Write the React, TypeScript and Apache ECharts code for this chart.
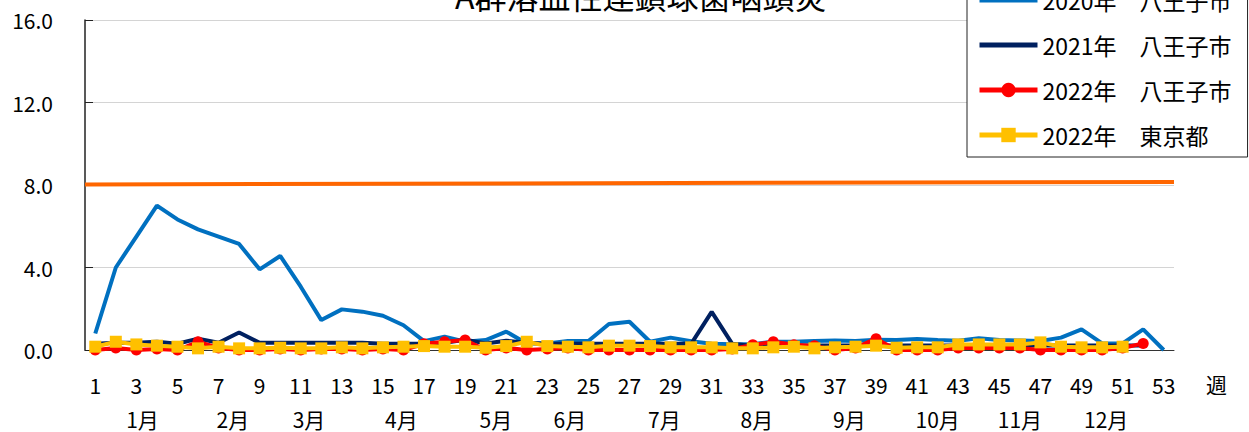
import React, { useEffect, useRef } from "react";
import * as echarts from "echarts";

const weeks: string[] = Array.from({ length: 53 }, (_, i) => String(i + 1));

const hachioji2020: number[] = [
  0.8, 4.0, 5.5, 7.0, 6.33, 5.85, 5.5, 5.14, 3.91, 4.56,
  3.07, 1.45, 1.97, 1.86, 1.66, 1.2, 0.43, 0.65, 0.4, 0.48,
  0.89, 0.32, 0.32, 0.44, 0.44, 1.26, 1.37, 0.4, 0.6, 0.42,
  0.3, 0.28, 0.28, 0.4, 0.4, 0.44, 0.46, 0.44, 0.5, 0.48,
  0.53, 0.48, 0.45, 0.57, 0.48, 0.46, 0.44, 0.6, 1.0, 0.32,
  0.32, 1.0, 0.0,
];

const hachioji2021: number[] = [
  0.3, 0.35, 0.35, 0.4, 0.3, 0.55, 0.35, 0.85, 0.35, 0.35,
  0.35, 0.35, 0.35, 0.35, 0.3, 0.3, 0.3, 0.35, 0.5, 0.32,
  0.45, 0.35, 0.3, 0.3, 0.3, 0.3, 0.3, 0.3, 0.3, 0.3,
  1.85, 0.3, 0.2, 0.2, 0.22, 0.22, 0.22, 0.22, 0.22, 0.22,
  0.22, 0.22, 0.22, 0.22, 0.22, 0.22, 0.22, 0.22, 0.22, 0.22,
  0.22, 0.22,
];

const hachioji2022: number[] = [
  0.0, 0.1, 0.0, 0.05, 0.0, 0.4, 0.1, 0.0, 0.0, 0.05,
  0.0, 0.05, 0.05, 0.0, 0.05, 0.0, 0.3, 0.4, 0.48, 0.0,
  0.1, 0.0, 0.05, 0.1, 0.0, 0.0, 0.0, 0.0, 0.0, 0.0,
  0.0, 0.05, 0.25, 0.4, 0.25, 0.2, 0.0, 0.1, 0.55, 0.0,
  0.0, 0.0, 0.1, 0.1, 0.1, 0.1, 0.0, 0.0, 0.0, 0.0,
  0.1, 0.32,
];

const tokyo2022: number[] = [
  0.16, 0.4, 0.27, 0.21, 0.16, 0.08, 0.16, 0.08, 0.08, 0.11,
  0.08, 0.08, 0.13, 0.08, 0.13, 0.16, 0.19, 0.16, 0.16, 0.11,
  0.19, 0.4, 0.19, 0.16, 0.13, 0.21, 0.21, 0.19, 0.13, 0.13,
  0.13, 0.08, 0.08, 0.13, 0.16, 0.08, 0.13, 0.16, 0.21, 0.11,
  0.13, 0.13, 0.27, 0.27, 0.27, 0.27, 0.37, 0.16, 0.13, 0.13,
  0.16,
];

// alert threshold line (spans the whole plot width)
const thresholdLine: [number, number][] = [
  [0, 8.03],
  [1, 8.15],
];

const monthNames: string[] = ["1月", "2月", "3月", "4月", "5月", "6月", "7月", "8月", "9月", "10月", "11月", "12月"];
const monthWeekPos: number[] = [3.3, 7.7, 11.4, 15.9, 20.5, 24.1, 28.7, 33.2, 37.7, 42.0, 46.0, 50.2];

const yTicks = { min: 0, max: 16, interval: 4 };

const seriesNames = ["2020年　八王子市", "2021年　八王子市", "2022年　八王子市", "2022年　東京都"];

const FONT = "'Noto Sans CJK JP', 'Noto Sans', sans-serif";

const BAR_ICON = "path://M0,0 H116 V10 H0 Z";

export default function App() {
  const ref = useRef<HTMLDivElement>(null);

  useEffect(() => {
    if (!ref.current) return;
    const chart = echarts.init(ref.current, null, { renderer: "svg" });
    chart.setOption({
      animation: false,
      backgroundColor: "#ffffff",
      textStyle: { fontFamily: FONT },
      title: {
        text: "A群溶血性連鎖球菌咽頭炎",
        left: 455,
        top: -21,
        padding: 0,
        textStyle: { fontFamily: FONT, fontSize: 32, fontWeight: "normal", color: "#000" },
      },
      legend: {
        data: [
          { name: seriesNames[0], icon: BAR_ICON },
          { name: seriesNames[1], icon: BAR_ICON },
          { name: seriesNames[2] },
          { name: seriesNames[3] },
        ],
        orient: "vertical",
        left: 967,
        top: -22,
        padding: [10, 16, 10, 10],
        itemGap: 21,
        itemWidth: 58,
        itemHeight: 18,
        backgroundColor: "#ffffff",
        borderColor: "#222",
        borderWidth: 1,
        borderRadius: 0,
        lineStyle: { width: 5 },
        textStyle: { fontFamily: FONT, fontSize: 23, lineHeight: 24, color: "#000" },
      },
      grid: {
        left: 85,
        right: 75,
        top: 20,
        bottom: 82,
        containLabel: false,
        outerBoundsMode: "none",
      },
      xAxis: [
        {
          type: "category",
          data: weeks,
          boundaryGap: true,
          position: "bottom",
          axisLine: { show: true, lineStyle: { color: "#333", width: 1 } },
          axisTick: { show: false },
          axisLabel: {
            interval: 1,
            margin: 24,
            fontFamily: FONT,
            fontSize: 21,
            color: "#000",
          },
          name: "週",
          nameLocation: "end",
          nameGap: 32,
          nameTextStyle: {
            fontFamily: FONT,
            fontSize: 21,
            color: "#000",
            verticalAlign: "top",
            padding: [24, 0, 0, 0],
          },
          splitLine: { show: false },
        },
        {
          type: "value",
          min: 0.5,
          max: 53.5,
          position: "bottom",
          axisLine: { show: false },
          axisTick: { show: false },
          splitLine: { show: false },
          axisLabel: {
            customValues: monthWeekPos,
            formatter: (v: number) => {
              const i = monthWeekPos.findIndex((p) => Math.abs(p - v) < 1e-6);
              return i >= 0 ? monthNames[i] : "";
            },
            margin: 58,
            fontFamily: FONT,
            fontSize: 21,
            color: "#000",
            showMinLabel: true,
            showMaxLabel: true,
            hideOverlap: false,
          },
        },
        {
          type: "value",
          min: 0,
          max: 1,
          show: false,
        },
      ],
      yAxis: {
        type: "value",
        min: yTicks.min,
        max: yTicks.max,
        interval: yTicks.interval,
        axisLine: { show: true, lineStyle: { color: "#222", width: 1.5 } },
        axisTick: { show: true, inside: true, length: 8, lineStyle: { color: "#222" } },
        axisLabel: {
          margin: 32,
          fontFamily: FONT,
          fontSize: 21,
          color: "#000",
          formatter: (v: number) => v.toFixed(1),
        },
        splitLine: { show: true, lineStyle: { color: "#D4D4D4", width: 1 } },
      },
      series: [
        {
          name: "警報基準",
          type: "line",
          xAxisIndex: 2,
          yAxisIndex: 0,
          data: thresholdLine,
          showSymbol: false,
          symbol: "none",
          lineStyle: { color: "#FF6600", width: 4 },
          itemStyle: { color: "#FF6600" },
          silent: true,
          z: 1,
        },
        {
          name: seriesNames[0],
          type: "line",
          xAxisIndex: 0,
          data: hachioji2020,
          symbol: "none",
          lineStyle: { color: "#0070C0", width: 4 },
          itemStyle: { color: "#0070C0" },
          z: 2,
        },
        {
          name: seriesNames[1],
          type: "line",
          xAxisIndex: 0,
          data: hachioji2021,
          symbol: "none",
          lineStyle: { color: "#002060", width: 4 },
          itemStyle: { color: "#002060" },
          z: 3,
        },
        {
          name: seriesNames[2],
          type: "line",
          xAxisIndex: 0,
          data: hachioji2022,
          symbol: "circle",
          symbolSize: 11,
          showAllSymbol: true,
          lineStyle: { color: "#FF0000", width: 4 },
          itemStyle: { color: "#FF0000" },
          z: 4,
        },
        {
          name: seriesNames[3],
          type: "line",
          xAxisIndex: 0,
          data: tokyo2022,
          symbol: "rect",
          symbolSize: 12,
          showAllSymbol: true,
          lineStyle: { color: "#FFC000", width: 4 },
          itemStyle: { color: "#FFC000" },
          z: 5,
        },
      ],
    });
    return () => chart.dispose();
  }, []);

  return (
    <div
      ref={ref}
      style={{ position: "fixed", left: 0, top: 0, width: 1249, height: 432, background: "#fff" }}
    />
  );
}
